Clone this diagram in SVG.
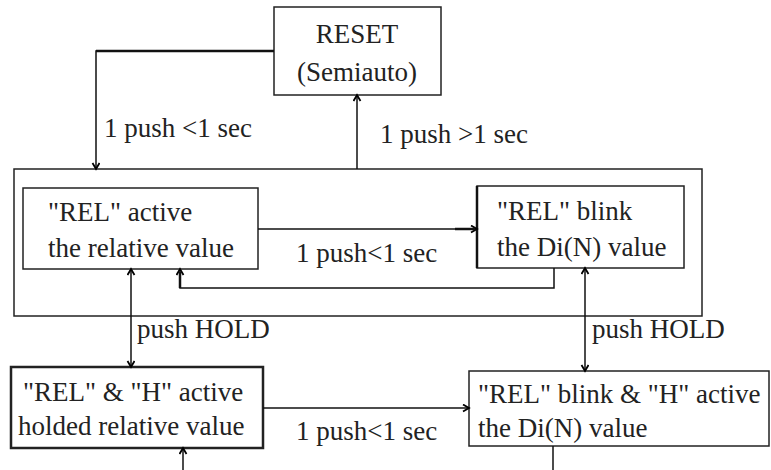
<svg xmlns="http://www.w3.org/2000/svg" width="771" height="470" viewBox="0 0 771 470">
<defs>
<marker id="arr" markerUnits="userSpaceOnUse" markerWidth="12" markerHeight="12" refX="7" refY="4" orient="auto">
<path d="M1,0.5 L7,4 L1,7.5" fill="none" stroke="#000" stroke-width="1.8"/>
</marker>
</defs>
<style>
text{font-family:"Liberation Serif","Times New Roman",serif;font-size:27px;fill:#222}
.box{fill:#fff;stroke:#222;stroke-width:1.5}
.thick{stroke-width:2.5}
.ln{fill:none;stroke:#111;stroke-width:1.5}
.arr{marker-end:url(#arr)}
.mid{text-anchor:middle}
</style>
<rect width="771" height="470" fill="#fff"/>
<g id="outer"><rect class="box" x="14" y="169" width="688" height="147" fill="none"/></g>
<g id="reset"><rect class="box" x="274" y="7" width="167" height="88"/>
<text class="mid" x="357" y="43">RESET</text><text class="mid" x="357" y="81">(Semiauto)</text></g>
<g id="rel-active"><rect class="box" x="23" y="188" width="235" height="81"/>
<text x="48" y="221">"REL" active</text><text x="48" y="257">the relative value</text></g>
<g id="rel-blink"><rect class="box" x="477" y="186" width="207" height="82"/>
<line x1="477" y1="186" x2="477" y2="268" stroke="#111" stroke-width="2.5"/>
<text x="497" y="220">"REL" blink</text><text x="497" y="256">the Di(N) value</text></g>
<g id="rel-h-active"><rect class="box thick" x="11" y="367" width="252" height="81"/>
<text x="23" y="401">"REL" &amp; "H" active</text><text x="18" y="435">holded relative value</text></g>
<g id="rel-blink-h"><rect class="box" x="469" y="371" width="300" height="75"/>
<text x="478" y="403">"REL" blink &amp; "H" active</text><text x="478" y="437">the Di(N) value</text></g>
<g id="connectors">
<path class="ln arr" d="M274,51 H96 V169" style="stroke-width:1.5"/>
<line x1="96" y1="51" x2="274" y2="51" stroke="#111" stroke-width="2.5"/>
<path class="ln arr" d="M357,169 V95"/>
<path class="ln arr" d="M258,229 H477"/>
<line x1="455" y1="229" x2="475" y2="229" stroke="#111" stroke-width="2.5"/>
<path class="ln arr" d="M554,268 V288 H180 V269"/>
<line x1="180" y1="288" x2="180" y2="272" stroke="#111" stroke-width="2.5"/>
<path class="ln arr" d="M131,300 V269"/>
<path class="ln arr" d="M131,300 V367"/>
<path class="ln arr" d="M585,300 V268"/>
<path class="ln arr" d="M585,300 V371"/>
<path class="ln arr" d="M263,408 H469"/>
<path class="ln arr" d="M183,470 V448"/>
<path class="ln" d="M553,446 V470"/>
<text x="104" y="137">1 push &lt;1 sec</text>
<text x="380" y="143">1 push &gt;1 sec</text>
<text x="296" y="262">1 push&lt;1 sec</text>
<text x="137" y="338">push HOLD</text>
<text x="592" y="338">push HOLD</text>
<text x="296" y="440">1 push&lt;1 sec</text>
</g>
</svg>
